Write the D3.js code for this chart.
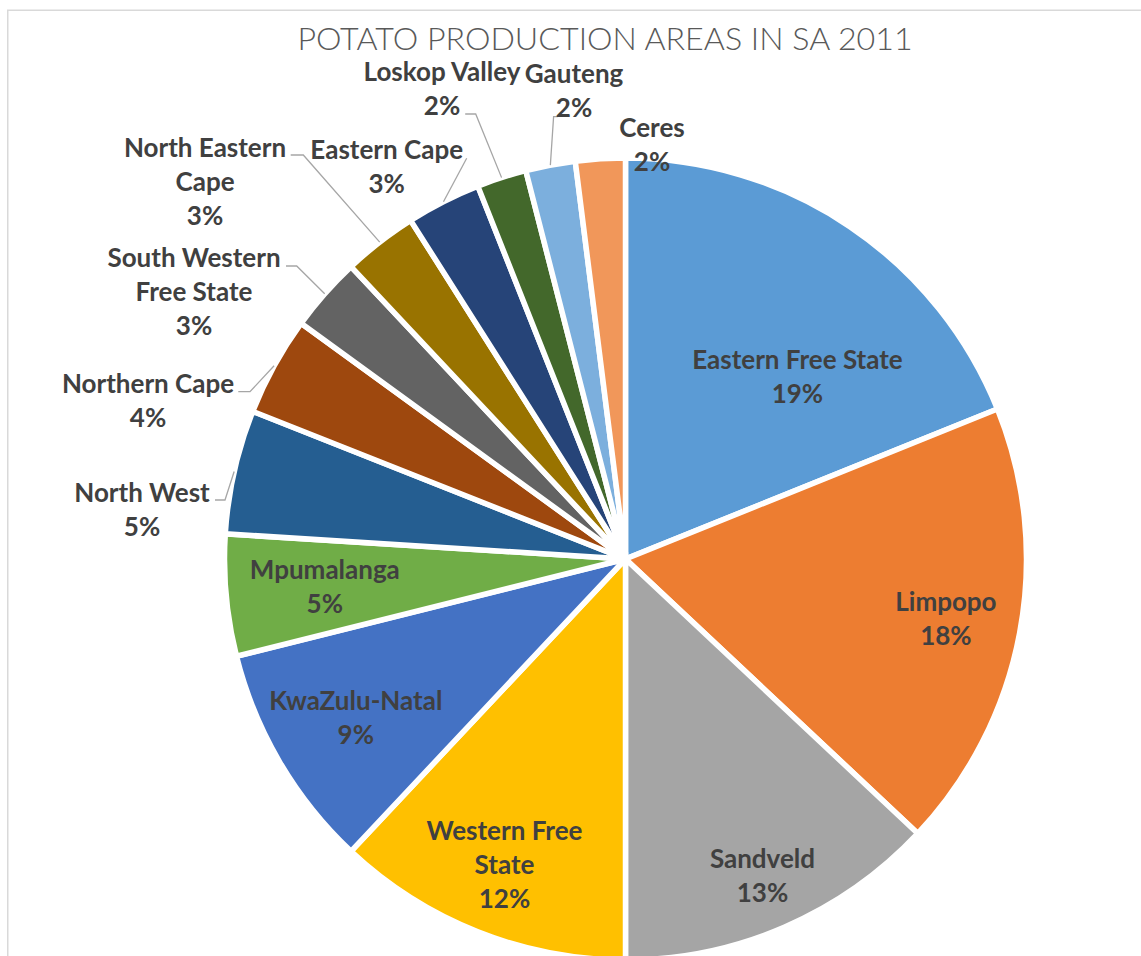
<!DOCTYPE html>
<html>
<head>
<meta charset="utf-8">
<script src="https://cdn.jsdelivr.net/npm/d3@7"></script>
<style>
  html, body { margin: 0; padding: 0; background: #ffffff; }
  svg { display: block; }
</style>
</head>
<body>
<svg id="chart" width="1141" height="956"></svg>
<script>
// ---- data ----
const title = "POTATO PRODUCTION AREAS IN SA 2011";
const categories = ["Eastern Free State", "Limpopo", "Sandveld", "Western Free State", "KwaZulu-Natal",
  "Mpumalanga", "North West", "Northern Cape", "South Western Free State", "North Eastern Cape",
  "Eastern Cape", "Loskop Valley", "Gauteng", "Ceres"];
const shares = [18.9, 18.1, 13.0, 12.0, 9.1, 4.9, 5.0, 4.0, 3.0, 3.0, 3.0, 2.0, 2.0, 2.0];
const labelLines = [["Eastern Free State"], ["Limpopo"], ["Sandveld"], ["Western Free", "State"],
  ["KwaZulu-Natal"], ["Mpumalanga"], ["North West"], ["Northern Cape"], ["South Western", "Free State"],
  ["North Eastern", "Cape"], ["Eastern Cape"], ["Loskop Valley"], ["Gauteng"], ["Ceres"]];

// ---- styles / layout ----
const colors = ["#5B9BD5", "#ED7D31", "#A5A5A5", "#FFC000", "#4472C4", "#70AD47", "#255E91",
  "#9E480E", "#636363", "#997300", "#264478", "#43682B", "#7CAFDD", "#F1975A"];
const cx = 625.5, cy = 559, R = 401;
const lineGap = 34;
const fontFamily = "Lato, 'Open Sans', 'DejaVu Sans', sans-serif";
const labelSize = 26;

// inside labels: radius fraction along mid angle, angle offset (deg)
const insideLayout = {
  0: {rf: 0.625, da: 9.3},
  1: {rf: 0.813, da: 0},
  2: {rf: 0.86, da: 0},
  3: {rf: 0.82, da: 0},
  4: {rf: 0.78, da: 0},
  5: {rf: 0.753, da: 0}
};
// outside labels: block offset from centre (first line), leader start and knee offsets
const outsideLayout = {
  6:  {x: -483.5, y: -66.3,  s: [-410.5, -59],   k: [-400.5, -59]},
  7:  {x: -477.5, y: -175,   s: [-387.2, -167.3], k: [-375.5, -167.3]},
  8:  {x: -431.5, y: -301.3, s: [-339.5, -293],  k: [-328.8, -293]},
  9:  {x: -420.5, y: -411.7, s: [-334.8, -404],  k: [-322.2, -404]},
  10: {x: -238.8, y: -409,   s: [-158.8, -400.7], k: [-158.8, -400.7]},
  11: {x: -183.5, y: -487.3, s: [-160.3, -445],  k: [-149.8, -445]},
  12: {x: -51.5,  y: -485,   s: [-67.7, -442.3], k: [-71.9, -442.3]},
  13: {x: 26.5,   y: -431,   s: null, k: null}
};

const svg = d3.select("#chart");

// chart frame
svg.append("rect")
  .attr("x", 7.75).attr("y", 10.25)
  .attr("width", 1400).attr("height", 1200)
  .attr("fill", "none").attr("stroke", "#d9d9d9").attr("stroke-width", 1.5);

// title
svg.append("text")
  .attr("x", 605).attr("y", 49.5)
  .attr("text-anchor", "middle")
  .attr("font-family", fontFamily)
  .attr("font-weight", 300)
  .attr("font-size", 32.2)
  .attr("fill", "#595959")
  .text(title);

const data = categories.map((c, i) => ({name: c, value: shares[i], lines: labelLines[i], color: colors[i], i}));

const pie = d3.pie().sort(null).value(d => d.value);
const arcs = pie(data);
const arc = d3.arc().innerRadius(0).outerRadius(R);

const g = svg.append("g").attr("transform", `translate(${cx},${cy})`);

g.selectAll("path.slice")
  .data(arcs)
  .join("path")
  .attr("class", "slice")
  .attr("d", arc)
  .attr("fill", d => d.data.color)
  .attr("stroke", "#ffffff")
  .attr("stroke-width", 5.5)
  .attr("stroke-linejoin", "miter");

const pct = v => Math.round(v) + "%";

function drawBlock(x, y0, lines) {
  const t = g.append("text")
    .attr("text-anchor", "middle")
    .attr("font-family", fontFamily)
    .attr("font-weight", 700)
    .attr("font-size", labelSize)
    .attr("fill", "#404040");
  lines.forEach((ln, k) => {
    t.append("tspan").attr("x", x).attr("y", y0 + k * lineGap + labelSize * 0.36).text(ln);
  });
}

// leader lines
const leaderGen = d3.line();
arcs.forEach(a => {
  const L = outsideLayout[a.data.i];
  if (!L || !L.s) return;
  const mid = (a.startAngle + a.endAngle) / 2;
  const end = [Math.sin(mid) * R, -Math.cos(mid) * R];
  g.append("path")
    .attr("d", leaderGen([L.s, L.k, end]))
    .attr("fill", "none")
    .attr("stroke", "#A6A6A6")
    .attr("stroke-width", 1.3);
});

// labels
arcs.forEach(a => {
  const i = a.data.i;
  const lines = a.data.lines.concat([pct(a.data.value)]);
  if (insideLayout[i]) {
    const L = insideLayout[i];
    const mid = (a.startAngle + a.endAngle) / 2 + L.da * Math.PI / 180;
    const px = Math.sin(mid) * R * L.rf;
    const py = -Math.cos(mid) * R * L.rf;
    const y0 = py - (lines.length - 1) / 2 * lineGap;
    drawBlock(px, y0, lines);
  } else {
    const L = outsideLayout[i];
    drawBlock(L.x, L.y, lines);
  }
});
</script>
</body>
</html>
